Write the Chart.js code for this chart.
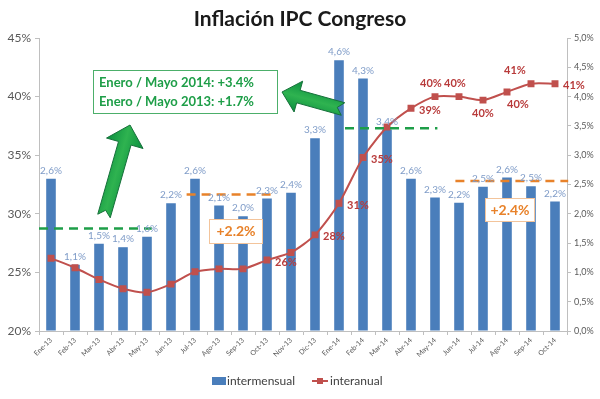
<!DOCTYPE html>
<html>
<head>
<meta charset="utf-8">
<script src="https://cdn.jsdelivr.net/npm/chart.js@4"></script>
<style>
html, body { margin: 0; padding: 0; background: #fff; }
</style>
</head>
<body>
<canvas id="myChart" width="600" height="399"></canvas>
<script>
const months = ['Ene-13', 'Feb-13', 'Mar-13', 'Abr-13', 'May-13', 'Jun-13', 'Jul-13', 'Ago-13', 'Sep-13', 'Oct-13', 'Nov-13', 'Dic-13',
    'Ene-14', 'Feb-14', 'Mar-14', 'Abr-14', 'May-14', 'Jun-14', 'Jul-14', 'Ago-14', 'Sep-14', 'Oct-14'];

// monthly inflation (right axis, %)
const intermensual = [2.6, 1.13, 1.49, 1.43, 1.61, 2.18, 2.6, 2.14, 1.96, 2.26, 2.36, 3.29,
    4.62, 4.31, 3.44, 2.6, 2.28, 2.19, 2.46, 2.62, 2.47, 2.21];

// yearly inflation (left axis, %)
const interanual = [26.2, 25.4, 24.4, 23.6, 23.3, 24.0, 25.05, 25.3, 25.3, 26.05, 26.7, 28.2,
    30.9, 34.8, 37.4, 39.0, 40.0, 40.0, 39.7, 40.4, 41.1, 41.1];

const leftTickStep = 5;
const rightTickStep = 0.5;

const FONT = 'Lato, "Open Sans", sans-serif';
const BLUE = '#4a7ebb';
const RED = '#c0504d';
const GREEN = '#1e9e48';
const ORANGE = '#e8822a';

// where each yearly label sits next to its point (index -> side)
const lineLabelSide = { 9: 'r', 11: 'r', 12: 'r', 13: 'r', 15: 'r', 16: 'a', 17: 'a', 18: 'b', 19: 'b', 20: 'a', 21: 'r' };

// dashed average lines, in category index / right axis units
const avgLines = [
    { from: -0.5, to: 4.2, y: 1.75, color: GREEN },
    { from: 12.25, to: 16.1, y: 3.46, color: GREEN },
    { from: 5.65, to: 9.35, y: 2.33, color: ORANGE },
    { from: 16.85, to: 21.55, y: 2.56, color: ORANGE }
];

function pct1(v) {
    return (Math.round(v * 10) / 10).toFixed(1).replace('.', ',') + '%';
}

function drawArrow(c, tail, tip, shaftW, headW, headL) {
    const dx = tip[0] - tail[0], dy = tip[1] - tail[1];
    const len = Math.sqrt(dx * dx + dy * dy);
    const ux = dx / len, uy = dy / len;
    const nx = -uy, ny = ux;
    const hb = [tip[0] - ux * headL, tip[1] - uy * headL];
    const pts = [
        [tail[0] + nx * shaftW / 2, tail[1] + ny * shaftW / 2],
        [hb[0] + nx * shaftW / 2, hb[1] + ny * shaftW / 2],
        [hb[0] + nx * headW / 2, hb[1] + ny * headW / 2],
        tip,
        [hb[0] - nx * headW / 2, hb[1] - ny * headW / 2],
        [hb[0] - nx * shaftW / 2, hb[1] - ny * shaftW / 2],
        [tail[0] - nx * shaftW / 2, tail[1] - ny * shaftW / 2],
        [tail[0] + ux * 6, tail[1] + uy * 6]
    ];
    const g = c.createLinearGradient(tail[0] + nx * headW / 2, tail[1] + ny * headW / 2, tail[0] - nx * headW / 2, tail[1] - ny * headW / 2);
    g.addColorStop(0, '#0a8f3f');
    g.addColorStop(0.5, '#2fb350');
    g.addColorStop(1, '#0a8f3f');
    c.beginPath();
    c.moveTo(pts[0][0], pts[0][1]);
    for (let i = 1; i < pts.length; i++) c.lineTo(pts[i][0], pts[i][1]);
    c.closePath();
    c.fillStyle = g;
    c.fill();
    c.strokeStyle = '#16703a';
    c.lineWidth = 1;
    c.stroke();
}

function textBox(c, x1, y1, x2, y2, border) {
    c.fillStyle = '#fff';
    c.fillRect(x1, y1, x2 - x1, y2 - y1);
    c.strokeStyle = border;
    c.lineWidth = 1;
    c.strokeRect(x1 + 0.5, y1 + 0.5, x2 - x1, y2 - y1);
}

const extras = {
    id: 'extras',
    afterDatasetsDraw(chart) {
        const c = chart.ctx;
        const xs = chart.scales.x;
        const yl = chart.scales.y;
        const yr = chart.scales.y1;
        const step = xs.getPixelForValue(1) - xs.getPixelForValue(0);
        const xAt = i => xs.getPixelForValue(0) + i * step;
        c.save();

        // dashed averages
        c.setLineDash([9, 6]);
        c.lineWidth = 2.5;
        avgLines.forEach(l => {
            c.strokeStyle = l.color;
            c.beginPath();
            c.moveTo(xAt(l.from), yr.getPixelForValue(l.y));
            c.lineTo(xAt(l.to), yr.getPixelForValue(l.y));
            c.stroke();
        });
        c.setLineDash([]);

        // bar labels
        const barMeta = chart.getDatasetMeta(0);
        c.font = '10px ' + FONT;
        c.fillStyle = '#7f9cc8';
        c.textAlign = 'center';
        c.textBaseline = 'bottom';
        barMeta.data.forEach((b, i) => {
            c.fillText(pct1(intermensual[i]), b.x, b.y - 3);
        });

        // line labels
        const lineMeta = chart.getDatasetMeta(1);
        c.font = 'bold 11px ' + FONT;
        c.fillStyle = '#b83a3a';
        c.textBaseline = 'middle';
        Object.keys(lineLabelSide).forEach(k => {
            const i = +k;
            const p = lineMeta.data[i];
            const t = Math.round(interanual[i]) + '%';
            const side = lineLabelSide[k];
            if (side === 'r') {
                c.textAlign = 'left';
                c.fillText(t, p.x + 8, p.y + 2);
            } else if (side === 'a') {
                c.textAlign = 'center';
                c.fillText(t, p.x + (i === 20 ? -16 : -4), p.y - 13);
            } else {
                c.textAlign = 'center';
                c.fillText(t, p.x + (i === 19 ? 11 : 0), p.y + 13);
            }
        });

        // boxes
        textBox(c, 209, 219, 262, 243, '#f3c49b');
        textBox(c, 485, 198, 534, 221, '#f3c49b');
        c.font = 'bold 14px ' + FONT;
        c.fillStyle = ORANGE;
        c.textAlign = 'center';
        c.fillText('+2.2%', 236, 231);
        c.fillText('+2.4%', 510, 210);

        textBox(c, 93, 70, 277, 113, '#4caf6a');
        c.font = 'bold 13px ' + FONT;
        c.fillStyle = GREEN;
        c.textAlign = 'left';
        c.fillText('Enero / Mayo 2014: +3.4%', 99, 83);
        c.fillText('Enero / Mayo 2013: +1.7%', 99, 102);

        // arrows
        drawArrow(c, [104, 216], [130, 125], 13, 38, 19);
        drawArrow(c, [343, 109], [282, 92], 13, 32, 17);

        // title
        c.font = 'bold 21px ' + FONT;
        c.fillStyle = '#1a1a1a';
        c.textAlign = 'center';
        c.textBaseline = 'middle';
        c.fillText('Inflación IPC Congreso', 300, 19);

        // legend
        c.font = '12px ' + FONT;
        c.fillStyle = BLUE;
        c.fillRect(212, 377, 14, 8);
        c.fillStyle = '#404040';
        c.textAlign = 'left';
        c.fillText('intermensual', 227, 381);
        c.strokeStyle = RED;
        c.lineWidth = 2;
        c.beginPath();
        c.moveTo(312, 381);
        c.lineTo(328, 381);
        c.stroke();
        c.fillStyle = RED;
        c.fillRect(317, 378, 6, 6);
        c.fillStyle = '#404040';
        c.fillText('interanual', 330, 381);

        c.restore();
    }
};

const ctx = document.getElementById('myChart').getContext('2d');

new Chart(ctx, {
    type: 'bar',
    data: {
        labels: months,
        datasets: [
            {
                type: 'bar',
                label: 'intermensual',
                data: intermensual,
                yAxisID: 'y1',
                backgroundColor: BLUE,
                barPercentage: 0.4,
                categoryPercentage: 1,
                order: 2
            },
            {
                type: 'line',
                label: 'interanual',
                data: interanual,
                yAxisID: 'y',
                borderColor: RED,
                backgroundColor: RED,
                borderWidth: 2,
                pointStyle: 'rect',
                pointRadius: 3.5,
                tension: 0.25,
                order: 1
            }
        ]
    },
    options: {
        responsive: false,
        animation: false,
        layout: { padding: { top: 38, left: 0, right: 0, bottom: 23 } },
        plugins: {
            legend: { display: false },
            title: { display: false },
            tooltip: { enabled: false }
        },
        scales: {
            x: {
                offset: true,
                grid: { offset: true, drawOnChartArea: false, drawTicks: true, tickLength: 4, color: '#bfbfbf' },
                border: { color: '#bfbfbf' },
                ticks: { autoSkip: false, minRotation: 45, maxRotation: 45, padding: 1, color: '#595959', font: { size: 7, family: FONT } },
                afterFit: s => { s.height = 45; }
            },
            y: {
                position: 'left',
                min: 20,
                max: 45,
                grid: { drawOnChartArea: false, drawTicks: true, tickLength: 4, color: '#bfbfbf' },
                border: { color: '#bfbfbf' },
                ticks: { stepSize: leftTickStep, padding: 4, color: '#595959', font: { size: 12, family: FONT }, callback: v => v + '%' },
                afterFit: s => { s.width = 39; }
            },
            y1: {
                position: 'right',
                min: 0,
                max: 5,
                grid: { drawOnChartArea: false, drawTicks: true, tickLength: 4, color: '#bfbfbf' },
                border: { color: '#bfbfbf' },
                ticks: { stepSize: rightTickStep, padding: 3, color: '#595959', font: { size: 9, family: FONT }, callback: v => v.toFixed(1).replace('.', ',') + '%' },
                afterFit: s => { s.width = 33; }
            }
        }
    },
    plugins: [extras]
});
</script>
</body>
</html>
